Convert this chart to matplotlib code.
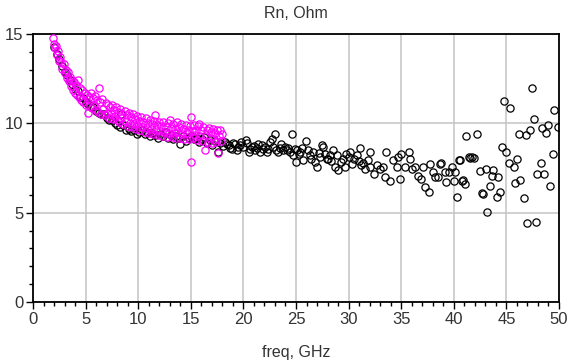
import matplotlib
matplotlib.use("Agg")
import matplotlib.pyplot as plt
from matplotlib.ticker import MultipleLocator

plt.rcParams['font.family'] = ['Liberation Sans', 'DejaVu Sans']

# Black series (measured)
black_freq = [2.0, 2.25, 2.5, 2.75, 3.0, 3.25, 3.5, 3.75, 4.0, 4.25, 4.5, 4.75, 5.0, 5.25, 5.5, 5.75,
              6.0, 6.25, 6.5, 6.75, 7.0, 7.25, 7.5, 7.75, 8.0, 8.25, 8.4, 8.6, 8.85, 9.1, 9.35, 9.6,
              9.85, 10.1, 10.35, 10.6, 10.85, 11.1, 11.35, 11.6, 11.85, 12.1, 12.35, 12.6, 12.85, 13.1,
              13.35, 13.6, 13.85, 14.0, 14.3, 14.55, 14.8, 15.05, 15.3, 15.55, 15.8, 16.05, 16.3, 16.55,
              16.8, 17.05, 17.3, 17.6, 17.8,
              18.05, 18.25, 18.4, 18.6, 18.75, 18.9, 19.05, 19.2, 19.35, 19.5, 19.65, 19.8, 20.0, 20.2,
              20.35, 20.5, 20.65, 20.8, 21.0, 21.1, 21.25, 21.4, 21.6, 21.75, 21.9, 22.05, 22.2, 22.35,
              22.5, 22.7, 22.85, 23.0, 23.1, 23.3, 23.45, 23.6, 23.8, 23.95, 24.1, 24.25, 24.4, 24.6,
              24.75, 24.9, 25.0, 25.1, 25.25, 25.4, 25.55, 25.7, 25.95, 26.1, 26.3, 26.45, 26.6, 26.8,
              27.0, 27.15, 27.3, 27.45, 27.6, 27.75, 27.9, 28.05, 28.2, 28.35, 28.5, 28.7, 28.85, 29.0,
              29.3, 29.5, 29.7, 29.8,
              30.0, 30.1, 30.3, 30.5, 30.8, 30.95, 31.1, 31.2, 31.4, 31.6, 31.8, 32.0, 32.05, 32.4, 32.7,
              33.0, 33.3, 33.5, 33.6,
              33.9, 34.2, 34.6, 34.7, 34.9, 35.0, 35.4, 35.7, 35.8, 36.0, 36.3, 36.6, 36.9, 37.1, 37.3,
              37.6, 37.7, 38.0, 38.2, 38.5, 38.7, 38.8, 39.2, 39.3, 39.5, 39.8, 40.0, 40.1, 40.3, 40.5,
              40.6, 40.8, 40.9, 41.1, 41.2, 41.4, 41.5, 41.7, 41.9, 42.2, 42.5, 42.7, 42.8, 43.1, 43.2,
              43.4, 43.6, 43.7, 44.1, 44.2, 44.4, 44.6, 44.8, 45.0, 45.2, 45.3, 45.7, 45.8, 46.0, 46.2,
              46.3, 46.7, 46.9, 47.0, 47.2, 47.4, 47.6, 47.8, 47.9, 48.3, 48.4, 48.6, 48.8, 49.0, 49.1,
              49.4, 49.5, 49.9]
black_rn = [14.3, 13.9, 13.6, 13.2, 12.9, 12.7, 12.4, 12.2, 11.9, 11.8, 11.5, 11.4, 11.2, 11.1, 10.9, 10.9,
            10.7, 10.6, 10.5, 10.5, 10.3, 10.2, 10.2, 10.0, 9.9, 9.78, 10.5, 9.9, 9.6, 9.7, 9.55, 9.6,
            9.41, 9.5, 9.6, 9.4, 9.5, 9.3, 9.45, 9.35, 9.2, 9.4, 9.3, 9.5, 9.2, 9.35,
            9.1, 9.3, 9.2, 8.85, 9.3, 9.0, 9.2, 9.3, 9.1, 9.2, 8.95, 9.1, 9.25, 8.9,
            9.05, 8.8, 9.0, 8.38, 8.92,
            8.75, 8.96, 8.85, 8.77, 8.6, 8.59, 8.9, 8.87, 8.5, 8.68, 8.8, 8.96, 8.7, 9.05,
            8.9, 8.4, 8.55, 8.68, 8.75, 8.49, 8.6, 8.87, 8.4, 8.8, 8.59, 8.65, 8.4, 8.55,
            8.96, 9.15, 8.7, 9.43, 8.49, 8.4, 8.6, 8.87, 8.49, 8.7, 8.49, 8.6, 8.4, 9.43,
            8.21, 8.55, 7.81, 8.49, 8.3, 8.4, 8.6, 7.94, 9.0, 8.5, 8.21, 8.0, 8.4, 7.85,
            7.57, 8.35, 8.12, 8.76, 8.68, 8.3, 8.03, 8.0, 8.21, 7.9, 8.49, 7.57, 8.2, 7.38,
            7.85, 8.01, 7.55, 8.31,
            8.1, 8.38, 7.75, 8.01, 8.2, 7.9, 8.6, 7.64, 7.8, 7.46, 7.95, 8.38, 7.55, 7.18, 7.64,
            7.46, 7.55, 6.99, 8.38,
            6.8, 7.92, 7.55, 8.1, 6.9, 8.29, 7.55, 8.38, 8.01, 7.46, 7.55, 7.08, 6.9, 7.55, 6.43,
            6.15, 7.73, 7.27, 6.99, 6.99, 7.73, 7.8, 7.27, 6.71, 7.27, 7.55, 6.8, 7.27, 5.87, 7.92,
            7.92, 6.8, 6.84, 6.62, 9.31, 8.1, 8.07, 8.14, 8.07, 9.41, 7.36, 6.1, 6.02, 7.46, 5.04,
            6.52, 7.03, 7.4, 5.87, 6.99, 6.15, 8.7, 11.27, 8.38, 7.77, 10.86, 7.55, 6.65, 8.01, 9.41,
            6.84, 5.8, 9.37, 4.42, 9.63, 11.97, 10.24, 4.48, 7.18, 7.77, 9.74, 7.18, 9.44, 9.93, 6.47,
            8.29, 10.75, 9.82]

# Magenta series
mag_freq = [1.9, 2.0, 2.1, 2.2, 2.3, 2.4, 2.5, 2.6, 2.7, 2.8, 2.9, 3.0, 3.1, 3.2, 3.3, 3.4, 3.5, 3.6,
            3.7, 3.8, 3.9, 4.0, 4.1, 4.2, 4.3, 4.4, 4.5, 4.6, 4.7, 4.8, 4.9, 5.0, 5.1, 5.2, 5.3, 5.4,
            5.5, 5.6, 5.7, 5.8, 5.9, 6.0, 6.1, 6.2, 6.3, 6.4, 6.5, 6.6, 6.7, 6.8, 6.9, 7.0, 7.1, 7.2,
            7.3, 7.4, 7.5, 7.6, 7.7, 7.8, 7.9, 8.0, 8.1, 8.2, 8.3, 8.4, 8.5, 8.6, 8.7, 8.8, 8.9, 9.0,
            9.1, 9.2, 9.3, 9.4, 9.5, 9.6, 9.7, 9.8, 9.9, 10.0, 10.1, 10.2, 10.3, 10.4, 10.5, 10.6,
            10.7, 10.8, 10.9, 11.0, 11.1, 11.2, 11.3, 11.4, 11.5, 11.6, 11.7, 11.8, 11.9, 12.0, 12.1,
            12.2, 12.3, 12.4, 12.5, 12.6, 12.7, 12.8, 12.9, 13.0, 13.1, 13.2, 13.3, 13.4, 13.5, 13.6,
            13.7, 13.8, 13.9, 14.0, 14.1, 14.2, 14.3, 14.4, 14.5, 14.6, 14.7, 14.8, 14.9, 15.0, 15.05,
            15.1, 15.2, 15.3, 15.4, 15.5, 15.6, 15.7, 15.8, 15.9, 16.0, 16.1, 16.2, 16.35, 16.4, 16.5,
            16.6, 16.7, 16.8, 16.9, 17.0, 17.1, 17.2, 17.3, 17.4, 17.5, 17.6, 17.7, 17.8, 17.9, 18.0]
mag_rn = [14.75, 14.45, 14.2, 14.35, 13.85, 14.05, 13.5, 13.7, 13.45, 13.05, 13.3, 12.8, 13.0, 12.55, 12.85, 12.35, 12.6, 12.1,
          12.45, 11.85, 12.3, 11.7, 12.15, 11.6, 12.42, 11.45, 12.0, 11.3, 11.85, 11.2, 11.7, 11.05, 11.6, 10.6, 11.5, 10.95,
          11.7, 10.85, 11.4, 11.05, 11.55, 10.75, 11.3, 10.65, 11.97, 11.2, 10.55, 11.35, 10.8, 10.45, 11.15, 10.6, 11.05, 10.3,
          10.9, 10.5, 11.0, 10.25, 10.75, 10.4, 10.9, 10.2, 10.65, 10.05, 10.8, 10.3, 10.55, 9.95, 10.7, 10.15, 10.45, 9.85,
          10.6, 10.0, 10.35, 9.8, 10.5, 9.95, 10.25, 9.7, 10.4, 9.85, 10.15, 9.6, 10.35, 9.8, 10.05, 9.5,
          10.3, 9.75, 10.0, 9.45, 10.2, 9.7, 9.95, 9.4, 10.15, 10.49, 9.6, 9.9, 9.35, 10.1, 9.55,
          9.85, 9.3, 10.05, 9.5, 9.8, 9.25, 10.0, 9.45, 10.2, 9.75, 9.25, 9.95, 9.45, 9.7, 9.2,
          10.05, 9.5, 9.8, 9.2, 9.95, 9.4, 9.7, 9.15, 9.9, 9.45, 9.65, 9.1, 9.85, 7.82, 10.33,
          9.55, 9.2, 9.9, 9.35, 9.6, 9.05, 9.85, 9.97, 9.3, 9.6, 9.0, 9.8, 8.52, 9.35, 9.6,
          8.95, 9.75, 9.2, 9.5, 8.9, 9.7, 9.15, 9.45, 8.95, 9.65, 8.33, 9.3, 9.63, 9.0, 9.4]

title_text = "Rn, Ohm"
xlabel_text = "freq, GHz"
x_ticks = [0, 5, 10, 15, 20, 25, 30, 35, 40, 45, 50]
y_ticks = [0, 5, 10, 15]

fig = plt.figure(figsize=(5.72, 3.62), dpi=100)
ax = fig.add_axes([33/572, 60/362, 526/572, 268/362])

ax.plot(black_freq, black_rn, linestyle='none', marker='o', markersize=5.2,
        markerfacecolor='none', markeredgecolor='black', markeredgewidth=0.9, zorder=3)
ax.plot(mag_freq, mag_rn, linestyle='none', marker='o', markersize=5.2,
        markerfacecolor='none', markeredgecolor='#ff00ff', markeredgewidth=0.9, zorder=4)

ax.set_xlim(0, 50)
ax.set_ylim(0, 15)
ax.set_xticks(x_ticks)
ax.set_yticks(y_ticks)
ax.xaxis.set_minor_locator(MultipleLocator(1))
ax.yaxis.set_minor_locator(MultipleLocator(1))
ax.grid(True, which='major', color='#c8c8c8', linewidth=1.2)
ax.set_axisbelow(True)

for s in ax.spines.values():
    s.set_color('black')
    s.set_linewidth(1.3)

ax.tick_params(axis='both', which='major', direction='out', length=5, width=1, color='black',
               labelsize=12, labelcolor='#333333', pad=2)
ax.tick_params(axis='both', which='minor', direction='out', length=3, width=1, color='black')

ax.set_title(title_text, fontsize=11.5, color='#333333', pad=11.5)
ax.set_xlabel(xlabel_text, fontsize=11.5, color='#333333', labelpad=13)

fig.savefig('out.png', dpi=100)
